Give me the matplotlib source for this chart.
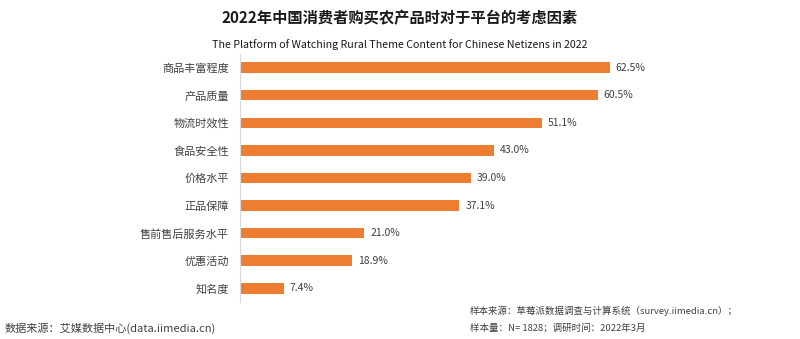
import matplotlib.pyplot as plt

plt.rcParams['font.family'] = ['Noto Sans CJK SC', 'DejaVu Sans']

# survey shares (%), top to bottom
categories = ['商品丰富程度', '产品质量', '物流时效性', '食品安全性', '价格水平',
              '正品保障', '售前售后服务水平', '优惠活动', '知名度']
shares = [62.5, 60.5, 51.1, 43.0, 39.0, 37.1, 21.0, 18.9, 7.4]

title = '2022年中国消费者购买农产品时对于平台的考虑因素'
subtitle = 'The Platform of Watching Rural Theme Content for Chinese Netizens in 2022'
source_left = '数据来源：艾媒数据中心(data.iimedia.cn)'
source_right = ['样本来源：草莓派数据调查与计算系统（survey.iimedia.cn）；',
                '样本量：N= 1828；调研时间：2022年3月']

bar_color = '#ED7D31'
text_color = '#404040'

fig = plt.figure(figsize=(8, 3.39), dpi=100)
ax = fig.add_axes([0.3, 0.109, 0.5175, 0.732])

y = range(len(categories))
ax.barh(y, shares, height=0.38, color=bar_color)
for yi, v in zip(y, shares):
    ax.text(v + 1.0, yi, '%.1f%%' % v, va='center', ha='left',
            fontsize=7.5, color=text_color)

ax.set_xlim(0, 70)
ax.set_ylim(len(categories) - 0.5, -0.5)
ax.set_yticks(list(y))
ax.set_yticklabels(categories, fontsize=8, color=text_color)
ax.tick_params(axis='y', length=0, pad=8)
ax.set_xticks([])
for side in ['top', 'right', 'bottom']:
    ax.spines[side].set_visible(False)
ax.spines['left'].set_color('#d9d9d9')
ax.spines['left'].set_linewidth(0.8)

fig.text(0.5, 0.947, title, ha='center', va='center', fontsize=11,
         fontweight='bold', color='#1a1a1a')
fig.text(0.5, 0.87, subtitle, ha='center', va='center', fontsize=7.7,
         color='#1a1a1a')

fig.text(0.006, 0.032, source_left, ha='left', va='center', fontsize=8,
         color=text_color)
fig.text(0.587, 0.083, source_right[0], ha='left', va='center', fontsize=6.8,
         color=text_color)
fig.text(0.587, 0.032, source_right[1], ha='left', va='center', fontsize=6.8,
         color=text_color)

fig.savefig('out.png', dpi=100, facecolor='white')
